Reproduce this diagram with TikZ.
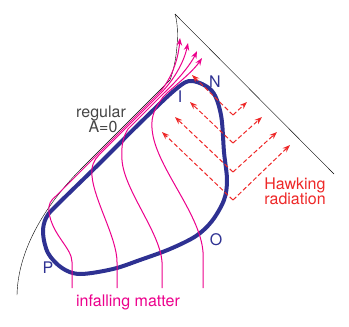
\documentclass[tikz,border=0pt]{standalone}
\usepackage{fontspec}
\setmainfont{TeX Gyre Heros}
\usepackage{xcolor}
\usetikzlibrary{arrows.meta}
\definecolor{horblue}{RGB}{46,49,146}
\definecolor{matmag}{RGB}{236,0,140}
\definecolor{hawred}{RGB}{238,40,40}
\definecolor{txtgray}{RGB}{70,70,70}
\tikzset{
  horizon/.style={draw=horblue,line width=4pt,line join=round},
  infall/.style={draw=matmag,line width=1pt,-{Stealth[length=7.5pt,width=5.5pt]}},
  hawk/.style={draw=hawred,line width=1pt,dash pattern=on 4.5pt off 2.5pt,-{Stealth[length=7.5pt,width=5.5pt]}},
  lbl/.style={font=\fontsize{16}{17}\selectfont,inner sep=0pt}
}
\newcommand{\hawkv}[5]{\draw[hawk] (233,#1) -- (#2,#3); \draw[hawk] (233,#1) -- (#4,#5);}

\begin{document}
\begin{tikzpicture}[x=1pt,y=-1pt]
\useasboundingbox (0,0) rectangle (349,327);
% ---- BRZEG ----
\draw[thin] (175,14) -- (334,174);
\draw[thin] (175,14) .. controls (180,30) and (177,62) .. (170,80) -- (82,168)
  .. controls (45,205) and (18,250) .. (17,295);
% ---- HORYZONT ----
\draw[horizon] plot[smooth cycle,tension=0.55] coordinates {
  (192,81) (212,91) (221,115) (224,152) (227,180) (224,200) (212,221) (196,236)
  (170,249) (140,260) (113,269) (80,274) (62,268) (48,253) (43,233) (46,218)
  (56,206) (100,163) (140,123) (176,89)};
% ---- MATERIA ----
\draw[infall] (72,288) -- (72,262) .. controls (72,248) and (52,235) .. (49,212)
  .. controls (48,204) and (51,200) .. (56,196) -- (157,95)
  .. controls (170,82) and (178,62) .. (180,38);
\draw[infall] (117,288) -- (117,262) .. controls (117,238) and (94,200) .. (92,176)
  .. controls (91,166) and (94,160) .. (99,155) -- (160,94)
  .. controls (174,80) and (184,62) .. (188,43);
\draw[infall] (162,288) -- (162,262) .. controls (160,232) and (124,190) .. (122,160)
  .. controls (121,146) and (123,137) .. (128,129) -- (164,93)
  .. controls (178,80) and (191,64) .. (197,51);
\draw[infall] (203,288) -- (203,252) .. controls (200,212) and (154,165) .. (152,128)
  .. controls (151,116) and (155,108) .. (163,97) -- (167,93)
  .. controls (182,80) and (194,70) .. (202,58);
% ---- PROMIENIOWANIE ----
\foreach \vy/\nx/\ny/\ex/\ey in {115/192/75/247/102,143/190/102/262/117,
  172/175/117/277/132,200/162/132/290/145}{
  \hawkv{\vy}{\nx}{\ny}{\ex}{\ey}}
% ---- OPISY ----
\node[lbl,text=horblue] (n) at (215,82) {N};
\node[lbl,text=horblue] (i) at (180,97) {I};
\node[lbl,text=horblue] (o) at (216,240) {O};
\node[lbl,text=horblue] (p) at (48,268) {P};
\node[lbl,text=txtgray,align=center] (reg) at (101,119) {regular\\[-2pt]\hspace*{4pt}A=0};
\node[lbl,text=hawred,align=left] (hr) at (295,191) {Hawking\\[-2pt]radiation};
\node[lbl,text=matmag] (im) at (128,302) {infalling matter};
\end{tikzpicture}
\end{document}
